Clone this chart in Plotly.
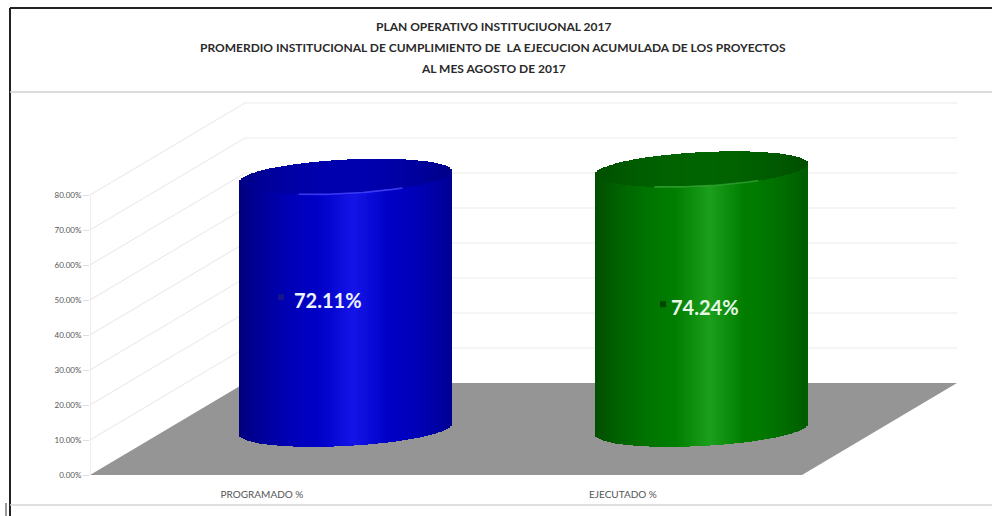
import numpy as np
import plotly.graph_objects as go

categories = ["PROGRAMADO %", "EJECUTADO %"]
values = [72.11, 74.24]
tick_values = [0, 10, 20, 30, 40, 50, 60, 70, 80]
title_lines = [
    "PLAN OPERATIVO INSTITUCIUONAL 2017",
    "PROMERDIO INSTITUCIONAL DE CUMPLIMIENTO DE  LA EJECUCION ACUMULADA DE LOS PROYECTOS",
    "AL MES AGOSTO DE 2017",
]

W, H = 992, 516
ML, MR, MT, MB = 90, 32, 95, 41
PX_X = 356.0
PX_Y = 3.5
XR = [-0.5, -0.5 + (W - ML - MR) / PX_X]
YR = [0, (H - MT - MB) / PX_Y]
DX = 155 / PX_X
DY = 92 / PX_Y
END = 1.5
HALF_W = 106 / PX_X
B = 17 / PX_Y
TILT = 5.5 / PX_Y
N = 106

palette = [
    dict(edge=(0, 0, 125), mid=(0, 0, 198), peak=(20, 20, 232), cap0=(0, 0, 135), cap1=(0, 0, 175), hi="rgba(70,70,255,0.8)", key="rgb(20,20,140)"),
    dict(edge=(0, 78, 0), mid=(0, 125, 0), peak=(28, 160, 28), cap0=(0, 78, 0), cap1=(0, 100, 0), hi="rgba(50,165,50,0.8)", key="rgb(0,70,0)"),
]


def rgb(c):
    return "rgb(%d,%d,%d)" % tuple(int(round(v)) for v in c)


def body_color(t, p):
    d = abs(t - 0.08) / 1.08
    if d < 0.3:
        s = d / 0.3
        c = np.array(p["peak"]) * (1 - s) + np.array(p["mid"]) * s
    else:
        s = ((d - 0.3) / 0.7) ** 1.5
        c = np.array(p["mid"]) * (1 - s) + np.array(p["edge"]) * s
    return rgb(c)


def cap_color(t, p):
    s = min(1.0, abs(t) ** 2)
    return rgb(np.array(p["cap1"]) * (1 - s) + np.array(p["cap0"]) * s)


fig = go.Figure()

# floor
fig.add_trace(go.Scatter(
    x=[-0.5, END, END + DX, -0.5 + DX, -0.5],
    y=[0, 0, DY, DY, 0],
    mode="lines", fill="toself", fillcolor="#959595",
    line=dict(width=0), hoverinfo="skip", showlegend=False))

# wall gridlines
for tv in tick_values[1:]:
    fig.add_trace(go.Scatter(
        x=[-0.5, -0.5 + DX, END + DX],
        y=[tv, tv + DY, tv + DY],
        mode="lines", line=dict(color="#ececec", width=1.2),
        hoverinfo="skip", showlegend=False))

# vertical axis line, only as high as the last tick
fig.add_trace(go.Scatter(
    x=[-0.5, -0.5], y=[tick_values[0], tick_values[-1]], mode="lines",
    line=dict(color="#dddddd", width=1), hoverinfo="skip", showlegend=False, cliponaxis=False))

ts = (np.arange(N) + 0.5) / N * 2 - 1
strip = 2 * HALF_W / N

for i, (cat, val) in enumerate(zip(categories, values)):
    p = palette[i]
    cx = i + 0.5 * DX
    cy = 0.5 * DY
    root = np.sqrt(np.clip(1 - ts ** 2, 0, 1))
    bottom = cy + TILT * ts - B * root
    top_low = cy + val + TILT * ts - B * root
    top_up = cy + val + TILT * ts + B * root
    xs = cx + ts * HALF_W
    fig.add_trace(go.Bar(
        x=xs, y=top_low - bottom, base=bottom, width=strip * 1.15,
        marker=dict(color=[body_color(t, p) for t in ts], line=dict(width=0)),
        hoverinfo="skip", showlegend=False, name=cat, xaxis="x2", yaxis="y2"))
    fig.add_trace(go.Bar(
        x=xs, y=top_up - top_low, base=top_low, width=strip * 1.15,
        marker=dict(color=[cap_color(t, p) for t in ts], line=dict(width=0)),
        hoverinfo="skip", showlegend=False, xaxis="x2", yaxis="y2"))
    # highlight on the front lip of the top
    m = (ts > -0.45) & (ts < 0.55)
    fig.add_trace(go.Scatter(
        x=xs[m], y=top_low[m], mode="lines",
        line=dict(color=p["hi"], width=1.6),
        hoverinfo="skip", showlegend=False, xaxis="x2", yaxis="y2"))
    # small legend key next to the label
    label_x = i + (0.169 if i == 0 else 0.2275)
    label_y = 50 if i == 0 else 48
    fig.add_trace(go.Scatter(
        x=[label_x - 0.132 if i == 0 else label_x - 0.118], y=[label_y + 0.8],
        mode="markers",
        marker=dict(symbol="square", size=6, color=p["key"]),
        hoverinfo="skip", showlegend=False, xaxis="x2", yaxis="y2"))
    fig.add_annotation(
        x=label_x, y=label_y, text="<b>%.2f%%</b>" % val, showarrow=False,
        font=dict(family="Lato", size=20, color="#eef4ff" if i == 0 else "#e8f8e8"),
        xanchor="center", yanchor="middle", xref="x2", yref="y2")

# title
for line, py in zip(title_lines, [26, 47, 68]):
    fig.add_annotation(
        xref="paper", yref="paper", x=(493 - ML) / (W - ML - MR),
        y=1 - (py - MT) / (H - MT - MB), text="<b>%s</b>" % line.replace("  ", " \u00a0"),
        showarrow=False, xanchor="center", yanchor="middle",
        font=dict(family="Lato", size=12, color="#2a2a2a"))


def fx(px):
    return (px - ML) / (W - ML - MR)


def fy(py):
    return 1 - (py - MT) / (H - MT - MB)


frame = [
    (10, 8, 992, 8, "#222222", 2),
    (10, 8, 10, 516, "#222222", 2),
    (10, 92, 992, 92, "#cfcfcf", 1.5),
    (10, 505, 992, 505, "#d4d4d4", 1.5),
    (6, 503, 6, 516, "#333333", 1),
]
for x0, y0, x1, y1, c, w in frame:
    fig.add_shape(type="line", xref="paper", yref="paper",
                  x0=fx(x0), y0=fy(y0), x1=fx(x1), y1=fy(y1),
                  line=dict(color=c, width=w), layer="above")

fig.update_layout(
    width=W, height=H, margin=dict(l=ML, r=MR, t=MT, b=MB),
    paper_bgcolor="white", plot_bgcolor="white", barmode="overlay", bargap=0,
    showlegend=False,
    xaxis=dict(range=XR, tickmode="array", tickvals=[-0.017, 0.997], ticktext=categories,
               showgrid=False, zeroline=False, showline=False, ticks="",
               tickfont=dict(family="Lato", size=10, color="#555555"), ticklabelstandoff=12, fixedrange=True),
    yaxis=dict(range=YR, tickmode="array", tickvals=tick_values,
               ticktext=["%.2f%%" % v for v in tick_values],
               showgrid=False, zeroline=False, showline=False,
               ticks="outside", ticklen=6, tickcolor="#dddddd",
               tickfont=dict(family="Lato", size=8, color="#555555"), fixedrange=True),
    xaxis2=dict(range=XR, overlaying="x", visible=False, fixedrange=True),
    yaxis2=dict(range=YR, overlaying="y", visible=False, fixedrange=True),
)

fig.write_html("out.html", config={"displayModeBar": False},
               post_script="document.body.style.margin='0';")
